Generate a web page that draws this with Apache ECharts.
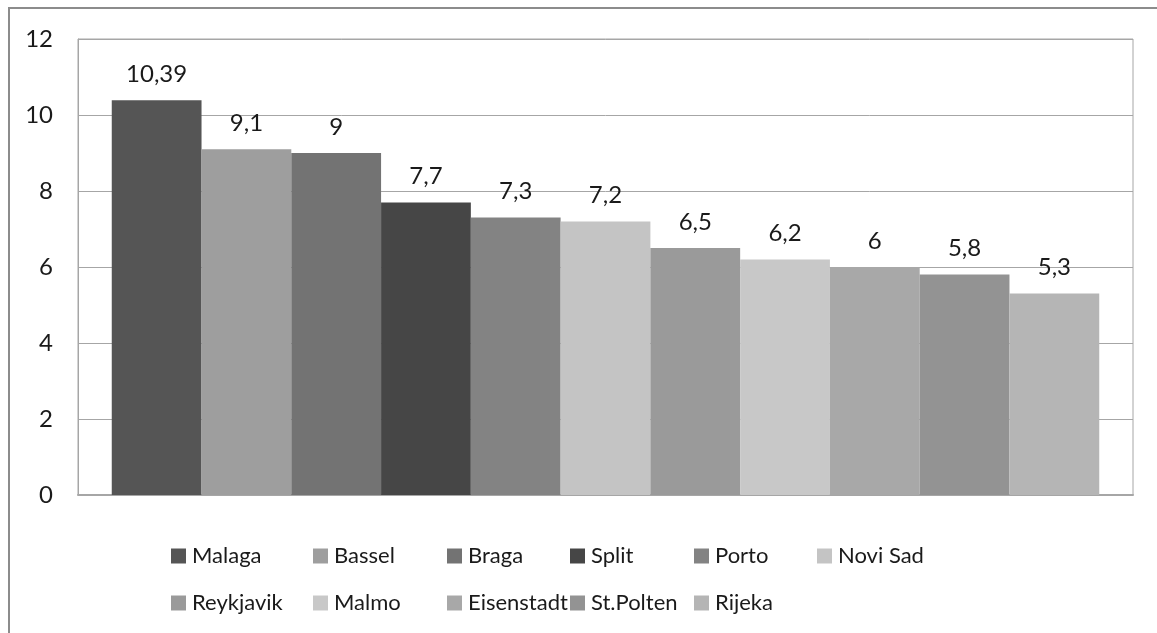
<!DOCTYPE html>
<html>
<head>
<meta charset="utf-8">
<script src="https://cdn.jsdelivr.net/npm/echarts@6/dist/echarts.min.js"></script>
<style>
  html, body { margin: 0; padding: 0; background: #fff; }
  #chart { width: 1157px; height: 633px; }
</style>
</head>
<body>
<div id="chart"></div>
<script>
// cities and their values
const cities = ['Malaga', 'Bassel', 'Braga', 'Split', 'Porto', 'Novi Sad',
  'Reykjavik', 'Malmo', 'Eisenstadt', 'St.Polten', 'Rijeka'];
const values = [10.39, 9.1, 9, 7.7, 7.3, 7.2, 6.5, 6.2, 6, 5.8, 5.3];
const yTicks = [0, 2, 4, 6, 8, 10, 12];

// greys per city
const colors = ['#555555', '#9e9e9e', '#737373', '#464646', '#838383', '#c4c4c4',
  '#9a9a9a', '#c8c8c8', '#a8a8a8', '#939393', '#b5b5b5'];

// legend slots (two rows, excel-like columns)
const legendCols = [171, 313, 447, 570, 694, 817];
const legendRows = [545, 592];

const font = 'Lato, "Open Sans", sans-serif';
const chart = echarts.init(document.getElementById('chart'));

const legends = cities.map((c, i) => ({
  data: [c],
  left: legendCols[i % 6],
  top: legendRows[Math.floor(i / 6)],
  padding: 0,
  itemWidth: 15,
  itemHeight: 15,
  itemGap: 5,
  icon: 'rect',
  textStyle: { fontFamily: font, fontSize: 22, color: '#1a1a1a', padding: [0, 0, 0, 1] }
}));

const series = cities.map((c, i) => ({
  name: c,
  type: 'bar',
  data: [values[i]],
  barGap: '0%',
  barCategoryGap: '6.4%',
  itemStyle: { color: colors[i] },
  label: {
    show: true,
    position: 'top',
    distance: 14,
    fontFamily: font,
    fontSize: 24,
    color: '#1a1a1a',
    formatter: p => String(p.value).replace('.', ',')
  }
}));

chart.setOption({
  backgroundColor: '#fff',
  animation: false,
  graphic: [{
    type: 'rect',
    shape: { x: 9, y: 8, width: 1300, height: 800 },
    style: { fill: 'none', stroke: '#8c8c8c', lineWidth: 2 },
    silent: true
  }],
  legend: legends,
  grid: {
    left: 78, right: 24, top: 39, bottom: 138,
    show: true, borderColor: '#a6a6a6', borderWidth: 1
  },
  xAxis: {
    type: 'category',
    data: [''],
    axisLine: { lineStyle: { color: '#a6a6a6', width: 2 } },
    axisTick: { show: false },
    axisLabel: { show: false }
  },
  yAxis: {
    type: 'value',
    min: yTicks[0],
    max: yTicks[yTicks.length - 1],
    interval: 2,
    axisLine: { show: true, lineStyle: { color: '#a6a6a6', width: 1 } },
    axisTick: { show: false },
    splitLine: { lineStyle: { color: '#a6a6a6', width: 1 } },
    axisLabel: { fontFamily: font, fontSize: 24, color: '#1a1a1a', margin: 25 }
  },
  series: series
});
</script>
</body>
</html>
